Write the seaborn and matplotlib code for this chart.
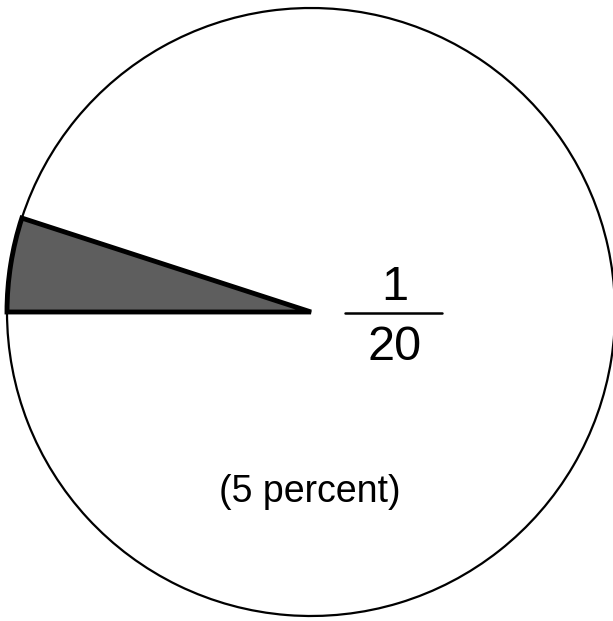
import matplotlib
matplotlib.use("Agg")
import matplotlib.pyplot as plt
import seaborn as sns

# share of the whole, as in the figure: 1 out of 20
labels = ["1/20", "rest"]
parts = [1, 19]
numerator = "1"
denominator = "20"
caption = "(5 percent)"

sns.set_theme(style="white")
plt.rcParams['font.family'] = ['Liberation Sans', 'DejaVu Sans']

fig = plt.figure(figsize=(6.13, 6.21), dpi=100)
ax = fig.add_axes([0, 0, 1, 1])

wedges, _ = ax.pie(parts, center=(311, 309), radius=304, startangle=162,
                   counterclock=True, colors=["#5e5e5e", "white"],
                   wedgeprops=dict(edgecolor="black", linewidth=1.6), frame=True)
wedges[0].set_linewidth(3.5)
wedges[0].set_zorder(3)

ax.set_xlim(0, 613)
ax.set_ylim(0, 621)
ax.set_aspect("equal")
ax.axis("off")

# the fraction and caption on the right / below
ax.text(395, 334, numerator, ha="center", va="center", fontsize=35, color="black")
ax.plot([345, 442], [308, 308], color="black", lw=1.8)
ax.text(395, 273, denominator, ha="center", va="center", fontsize=35, color="black")
ax.text(310, 129, caption, ha="center", va="center", fontsize=27, color="black")

plt.savefig("out.png", dpi=100)
